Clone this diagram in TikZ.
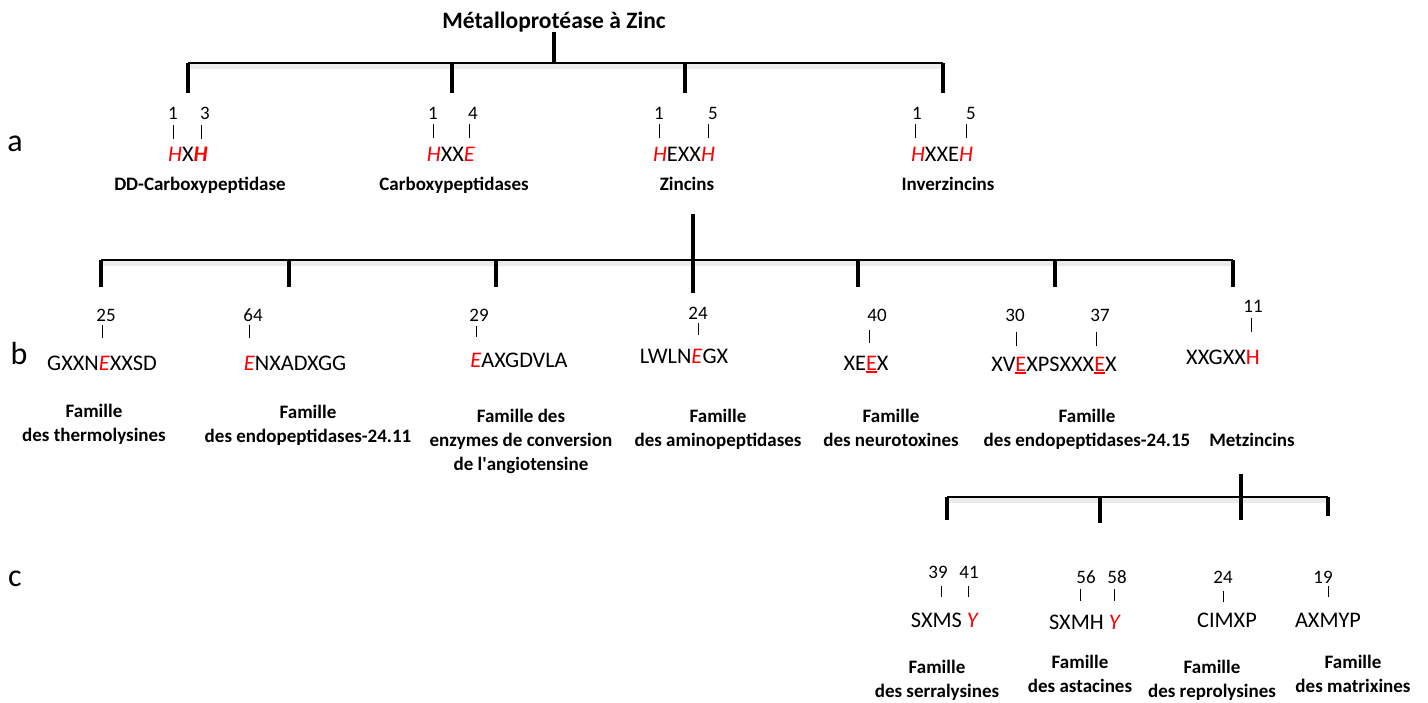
\documentclass[tikz,border=0pt]{standalone}
\usepackage{fontspec}
\setmainfont{Carlito}
\usepackage{tikz}
\usepackage{xcolor}

\newcommand{\redit}[1]{\textcolor{red}{\textit{#1}}}
\newcommand{\redbf}[1]{\textcolor{red}{\textbf{\textit{#1}}}}
\newcommand{\redul}[1]{\textcolor{red}{\sbox0{#1}\rlap{\rule[-3pt]{\wd0}{1.8pt}}\usebox0}}

\begin{document}
\begin{tikzpicture}[
  x=1pt, y=-1pt,
  ttl/.style={font=\bfseries\fontsize{23.5}{27}\selectfont, inner sep=0pt, anchor=base},
  lbl/.style={font=\bfseries\fontsize{19}{24}\selectfont, align=center, inner sep=0pt, anchor=north},
  motif/.style={font=\fontsize{22.3}{26}\selectfont, inner sep=0pt, anchor=base},
  num/.style={font=\fontsize{19}{22}\selectfont, inner sep=0pt, anchor=base},
  lvl/.style={font=\fontsize{32}{36}\selectfont, inner sep=0pt, anchor=base},
  bar/.style={line width=1.6pt},
  stem/.style={line width=3.6pt},
  pin/.style={line width=0.9pt},
  shade/.style={line width=5pt, black!8}
]
\useasboundingbox (0,0) rectangle (1428,702);

% level letters
\node[lvl] (la) at (15,151) {a};
\node[lvl] (lb) at (19,364) {b};
\node[lvl] (lc) at (15,586) {c};

% ---- level a
\node[ttl] (top) at (554,28) {Métalloprotéase à Zinc};
\coordinate (ja) at (554,63);
\coordinate (ja1) at (188,63);
\coordinate (ja2) at (452,63);
\coordinate (ja3) at (685,63);
\coordinate (ja4) at (943,63);
\coordinate (ka) at (0,93);
\draw[shade] ([yshift=-3pt]ja1) -- ([yshift=-3pt]ja4);
\draw[bar] (ja1) -- (ja4);
\draw[stem] (top) -- (ja);
\draw[stem] (ja1) -- (ja1 |- ka);
\draw[stem] (ja2) -- (ja2 |- ka);
\draw[stem] (ja3) -- (ja3 |- ka);
\draw[stem] (ja4) -- (ja4 |- ka);

\node[num] (dd1) at (173,119) {1};
\node[num] (dd3) at (205,119) {3};
\node[motif] (mdd) at (188,161) {\redit{H}X\redbf{H}};
\node[lbl] (dd) at (200,173) {\strut DD-Carboxypeptidase};
\draw[pin] ([yshift=-6pt]dd1.south) -- ++(0,14);
\draw[pin] ([xshift=-4pt,yshift=-6pt]dd3.south) -- ++(0,14);

\node[num] (cp1) at (433,119) {1};
\node[num] (cp4) at (473,119) {4};
\node[motif] (mcp) at (451,161) {\redit{H}XX\redit{E}};
\node[lbl] (cp) at (454,173) {\strut Carboxypeptidases};
\draw[pin] ([yshift=-5pt]cp1.south) -- ++(0,14);
\draw[pin] ([xshift=-4pt,yshift=-5pt]cp4.south) -- ++(0,14);

\node[num] (zn1) at (659,119) {1};
\node[num] (zn5) at (713,119) {5};
\node[motif] (mzn) at (684,161) {\redit{H}EXX\redit{H}};
\node[lbl] (zn) at (687,173) {\strut Zincins};
\draw[pin] ([yshift=-5pt]zn1.south) -- ++(0,14);
\draw[pin] ([xshift=-5pt,yshift=-5pt]zn5.south) -- ++(0,14);

\node[num] (iz1) at (917,119) {1};
\node[num] (iz5) at (971,119) {5};
\node[motif] (miz) at (942,161) {\redit{H}XXE\redit{H}};
\node[lbl] (iz) at (948,173) {\strut Inverzincins};
\draw[pin] ([xshift=-2pt,yshift=-5pt]iz1.south) -- ++(0,14);
\draw[pin] ([xshift=-5pt,yshift=-5pt]iz5.south) -- ++(0,14);

% ---- level b
\coordinate (sb) at (693,214);
\coordinate (eb) at (693,293);
\coordinate (jb1) at (101,260);
\coordinate (jb2) at (289,260);
\coordinate (jb3) at (496,260);
\coordinate (jb4) at (858,260);
\coordinate (jb5) at (1055,260);
\coordinate (jb6) at (1233,260);
\coordinate (kb) at (0,287);
\draw[shade] ([yshift=-3pt]jb1) -- ([yshift=-3pt]jb6);
\draw[bar] (jb1) -- (jb6);
\draw[stem] (sb) -- (eb);
\draw[stem] (jb1) -- (jb1 |- kb);
\draw[stem] (jb2) -- (jb2 |- kb);
\draw[stem] (jb3) -- (jb3 |- kb);
\draw[stem] (jb4) -- (jb4 |- kb);
\draw[stem] (jb5) -- (jb5 |- kb);
\draw[stem] (jb6) -- (jb6 |- kb);

\node[num] (th25) at (106,321) {25};
\node[motif] (mth) at (102,370) {GXXN\redit{E}XXSD};
\node[lbl] (th) at (94,400) {\strut Famille\\des thermolysines};
\draw[pin] ([xshift=-4pt,yshift=-4pt]th25.south) -- ++(0,13);

\node[num] (en64) at (253,321) {64};
\node[motif] (men) at (295,370) {\redit{E}NXADXGG};
\node[lbl] (en) at (308,401) {\strut Famille\\des endopeptidases-24.11};
\draw[pin] ([xshift=-4pt,yshift=-4pt]en64.south) -- ++(0,13);

\node[num] (ac29) at (479,321) {29};
\node[motif] (mac) at (519,367) {\redit{E}AXGDVLA};
\node[lbl] (ac) at (521,405) {\strut Famille des\\enzymes de conversion\\de l\textquotesingle angiotensine};
\draw[pin] ([xshift=-3pt,yshift=-5pt]ac29.south) -- ++(0,11);

\node[num] (am24) at (698,319) {24};
\node[motif] (mam) at (684,363) {LWLN\redit{E}GX};
\node[lbl] (am) at (718,405) {\strut Famille\\des aminopeptidases};
\draw[pin] ([yshift=-4pt]am24.south) -- ++(0,12);

\node[num] (nt40) at (877,321) {40};
\node[motif] (mnt) at (866,370) {XE\redul{E}X};
\node[lbl] (nt) at (891,405) {\strut Famille\\des neurotoxines};
\draw[pin] ([xshift=-8pt,yshift=-9pt]nt40.south) -- ++(0,13);

\node[num] (ep30) at (1015,321) {30};
\node[num] (ep37) at (1100,321) {37};
\node[motif] (mep) at (1054,371) {XV\redul{E}XPSXXX\redul{E}X};
\node[lbl] (ep) at (1087,405) {\strut Famille\\des endopeptidases-24.15};
\draw[pin] ([xshift=1pt,yshift=-11pt]ep30.south) -- ++(0,14);
\draw[pin] ([xshift=-4pt,yshift=-11pt]ep37.south) -- ++(0,14);

\node[num] (mz11) at (1253,312) {11};
\node[motif] (mmz) at (1223,364) {XXGXX\textcolor{red}{H}};
\node[lbl] (mz) at (1252,429) {\strut Metzincins};
\draw[pin] ([xshift=-2pt,yshift=-6pt]mz11.south) -- ++(0,14);

% ---- level c
\coordinate (sc) at (1241,474);
\coordinate (ec) at (1241,520);
\coordinate (jc1) at (947,497);
\coordinate (jc2) at (1100,497);
\coordinate (jc3) at (1328,497);
\coordinate (kc) at (0,520);
\draw[shade] ([yshift=-3pt]jc1) -- ([yshift=-3pt]jc3);
\draw[bar] (jc1) -- (jc3);
\draw[stem] (sc) -- (ec);
\draw[stem] (jc1) -- (jc1 |- kc);
\draw[stem] (jc2) -- ([yshift=-3pt]jc2 |- kc);
\draw[stem] (jc3) -- ([yshift=4pt]jc3 |- kc);

\node[num] (se39) at (938,578) {39};
\node[num] (se41) at (969,578) {41};
\node[motif] (mse) at (945,627) {SXMS \redit{Y}};
\node[lbl] (se) at (937,656) {\strut Famille\\des serralysines};
\draw[pin] ([xshift=3pt,yshift=-8pt]se39.south) -- ++(0,11);
\draw[pin] ([xshift=-1pt,yshift=-8pt]se41.south) -- ++(0,11);

\node[num] (as56) at (1086,583) {56};
\node[num] (as58) at (1117,583) {58};
\node[motif] (mas) at (1085,629) {SXMH \redit{Y}};
\node[lbl] (as) at (1080,651) {\strut Famille\\des astacines};
\draw[pin] ([xshift=-6pt,yshift=-6pt]as56.south) -- ++(0,12);
\draw[pin] ([xshift=-3pt,yshift=-6pt]as58.south) -- ++(0,12);

\node[num] (rp24) at (1223,583) {24};
\node[motif] (mrp) at (1227,627) {CIMXP};
\node[lbl] (rp) at (1212,656) {\strut Famille\\des reprolysines};
\draw[pin] ([yshift=-8pt]rp24.south) -- ++(0,11);

\node[num] (mx19) at (1323,583) {19};
\node[motif] (mmx) at (1328,627) {AXMYP};
\node[lbl] (mx) at (1353,651) {\strut Famille\\des matrixines};
\draw[pin] ([xshift=5pt,yshift=-3pt]mx19.south) -- ++(0,11);
\end{tikzpicture}
\end{document}
